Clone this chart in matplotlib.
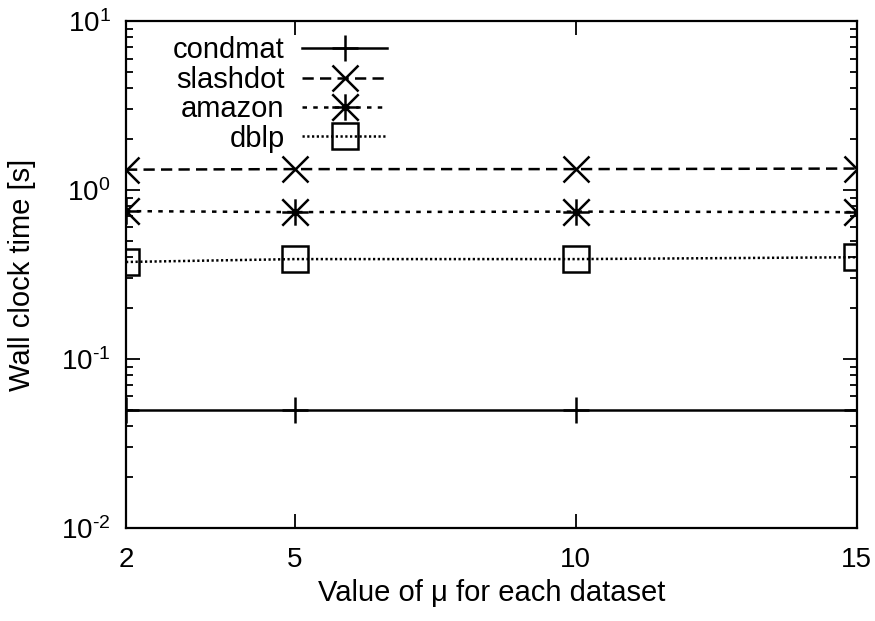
import numpy as np
from matplotlib import pyplot as plt
from matplotlib.path import Path
from matplotlib.ticker import FuncFormatter, LogLocator

plt.rcParams['font.family'] = ['Liberation Sans', 'DejaVu Sans']
plt.rcParams['mathtext.fontset'] = 'custom'
plt.rcParams['mathtext.rm'] = 'Liberation Sans'
plt.rcParams['axes.unicode_minus'] = False

mu = [2, 5, 10, 15]
condmat = [0.05, 0.05, 0.05, 0.05]
slashdot = [1.32, 1.33, 1.33, 1.34]
amazon = [0.75, 0.74, 0.745, 0.74]
dblp = [0.375, 0.39, 0.39, 0.40]

# gnuplot-style asterisk: a plus and a cross on top of each other
star = Path([(-1, 0), (1, 0), (0, -1), (0, 1), (-1, -1), (1, 1), (-1, 1), (1, -1)],
            [Path.MOVETO, Path.LINETO] * 4)

def pow10_label(v, pos):
    e = int(round(np.log10(v)))
    exp = str(e).replace('-', '\u2010')
    return r'$\mathdefault{10^{%s}}$' % exp

fig = plt.figure(figsize=(8.75, 6.21), dpi=100)
ax = fig.add_axes([0.144, 0.150, 0.835, 0.816])

lw = 1.8
ms = 19
common = dict(color='black', linewidth=lw, markersize=ms, markeredgewidth=lw, fillstyle='none')
ax.plot(mu, condmat, marker='+', linestyle='-', label='condmat', **common)
ax.plot(mu, slashdot, marker='x', dashes=(4.5, 2.5), label='slashdot', **common)
ax.plot(mu, amazon, marker=star, dashes=(1.8, 2.5), label='amazon', **common)
ax.plot(mu, dblp, marker='s', dashes=(0.9, 1.0), label='dblp', **common)

ax.set_yscale('log')
ax.set_ylim(1e-2, 1e1)
ax.yaxis.set_major_locator(LogLocator(base=10))
ax.yaxis.set_major_formatter(FuncFormatter(pow10_label))
ax.set_xlim(2, 15)
ax.set_xticks(mu)
ax.set_xticklabels([str(m) for m in mu])

for s in ax.spines.values():
    s.set_linewidth(1.6)
ax.tick_params(which='both', direction='in', top=True, right=True, width=1.3, labelsize=20)
ax.tick_params(which='major', length=10)
ax.tick_params(which='minor', length=5)
ax.tick_params(axis='x', pad=14)
ax.tick_params(axis='y', pad=11)

ax.set_xlabel('Value of \u03bc for each dataset', fontsize=21, labelpad=4)
ax.set_ylabel('Wall clock time [s]', fontsize=21, labelpad=18)

ax.legend(loc='upper right', bbox_to_anchor=(0.357, 0.970), frameon=False,
          markerfirst=False, fontsize=21, handlelength=2.9, handletextpad=0.6,
          labelspacing=0.05, borderpad=0, borderaxespad=0)

fig.savefig('out.png', dpi=100)
